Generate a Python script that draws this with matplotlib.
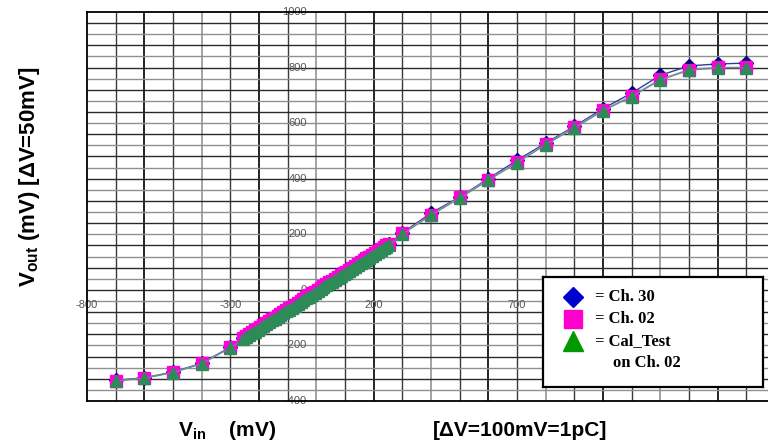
import numpy as np
import matplotlib
matplotlib.use("Agg")
import matplotlib.pyplot as plt

plt.rcParams['mathtext.fontset'] = 'custom'
plt.rcParams['mathtext.rm'] = 'Liberation Sans'
plt.rcParams['mathtext.bf'] = 'Liberation Sans:bold'

# ---------------- data ----------------
vin = [-700, -600, -500, -400, -300,
       -255, -245, -235, -225, -215, -205, -195, -185, -175, -165, -155, -145,
       -135, -125, -115, -105, -95, -85, -75, -65, -55, -45, -35, -25, -15, -5,
       5, 15, 25, 35, 45, 55, 65, 75, 85, 95, 105, 115, 125, 135, 145, 155,
       165, 175, 185, 195, 205, 215, 225, 235, 245, 255,
       300, 400, 500, 600, 700, 800, 900, 1000, 1100, 1200, 1300, 1400, 1500]

cal_test = [-328, -318, -298, -266, -209,
            -177, -170, -164, -157, -150, -144, -137, -130, -124, -117, -110, -104,
            -97, -91, -84, -77, -71, -64, -57, -51, -44, -37, -31, -24, -17, -11,
            -4, 3, 9, 16, 23, 29, 36, 42, 49, 56, 62, 69, 76, 82, 89, 96,
            102, 109, 116, 122, 129, 136, 142, 149, 156, 162,
            200, 268, 330, 394, 457, 522, 582, 644, 695, 755, 790, 799, 799]

ch02 = [-327, -317, -297, -265, -207,
        -173, -166, -160, -153, -146, -140, -133, -126, -120, -113, -106, -100,
        -93, -87, -80, -73, -67, -60, -53, -47, -40, -33, -27, -20, -13, -7,
        0, 7, 13, 20, 27, 33, 40, 46, 53, 60, 66, 73, 80, 86, 93, 100,
        106, 113, 120, 126, 133, 140, 146, 153, 160, 166,
        203, 271, 333, 397, 460, 525, 585, 647, 698, 758, 793, 801, 801]

ch30 = [-326, -316, -296, -264, -206,
        -175, -168, -162, -155, -148, -142, -135, -128, -122, -115, -108, -102,
        -95, -89, -82, -75, -69, -62, -55, -49, -42, -35, -29, -22, -15, -9,
        -2, 5, 11, 18, 25, 31, 38, 44, 51, 58, 64, 71, 78, 84, 91, 98,
        104, 111, 118, 124, 131, 138, 144, 151, 158, 164,
        205, 276, 334, 400, 466, 528, 588, 652, 708, 772, 806, 813, 816]

xtick_vals = [-800, -300, 200, 700]
xtick_labels = ['-800', '-300', '200', '700']
ytick_vals = [1000, 800, 600, 400, 200, 0, -200, -400]
ytick_labels = ['1000', '800', '600', '400', '200', '0', '-200', '-400']

legend_labels = ['= Ch. 30', '= Ch. 02', '= Cal_Test']
legend_extra = 'on Ch. 02'

# ---------------- figure ----------------
fig = plt.figure(figsize=(7.68, 4.47), dpi=100)
ax = fig.add_axes([87 / 768, 1 - 401 / 447, 1 - 87 / 768, 389 / 447])
ax.set_xlim(-800, -800 + 681 / 0.2866)
ax.set_ylim(-400, 1000)
ax.set_xticks([])
ax.set_yticks([])

# grid
for gx in np.arange(-700, 1600, 100):
    m = int(gx) % 400
    if m == 200:
        c, lw = '#000000', 1.2
    elif m in (100, 300):
        c, lw = '#3a3a3a', 1.0
    else:
        c, lw = '#8a8a8a', 1.1
    ax.axvline(gx, color=c, lw=lw, zorder=0)
for gy in np.arange(-360, 1000, 40):
    if int(gy) % 80 == 0:
        c, lw = '#2a2a2a', 1.0
    else:
        c, lw = '#909090', 1.0
    ax.axhline(gy, color=c, lw=lw, zorder=0)

for s in ['left', 'top', 'bottom']:
    ax.spines[s].set_linewidth(1.3)
    ax.spines[s].set_color('black')
ax.spines['right'].set_visible(False)

# tick labels (placed at centre of chart)
for v, l in zip(xtick_vals, xtick_labels):
    ax.text(v, -54, l, ha='center', va='center', fontsize=8,
            color='#555555', family='Liberation Sans', zorder=1, clip_on=False)
for v, l in zip(ytick_vals, ytick_labels):
    ax.text(-33, v, l, ha='right', va='center', fontsize=8,
            color='#555555', family='Liberation Sans', zorder=1, clip_on=False)

# series
ax.plot(vin, ch30, color='#2c3e9a', lw=1.0, marker='D', ms=7,
        mfc='#000080', mec='#000080', zorder=3)
ax.plot(vin, ch02, color='#b58ab5', lw=0.9, marker='s', ms=8,
        mfc='#ff00dd', mec='#ff00dd', zorder=4)
ax.plot(vin, cal_test, color='#5f8f8f', lw=0.9, marker='^', ms=8.5,
        mfc='#2e8b57', mec='#2e8b57', zorder=5)

# axis labels
fig.text(30 / 768, 1 - 177 / 447, r'$\mathbf{V_{out}}$ (mV) [ΔV=50mV]',
         rotation=90, ha='center', va='center', fontsize=16,
         fontweight='bold', family='Liberation Sans')
fig.text(178 / 768, 1 - 430 / 447, r'$\mathbf{V_{in}}$    (mV)',
         ha='left', va='center', fontsize=15, fontweight='bold',
         family='Liberation Sans')
fig.text(433 / 768, 1 - 430 / 447, '[ΔV=100mV=1pC]',
         ha='left', va='center', fontsize=15, fontweight='bold',
         family='Liberation Sans')

# legend box
lax = fig.add_axes([543 / 768, 1 - 387 / 447, 220 / 768, 110 / 447])
lax.set_xlim(0, 1)
lax.set_ylim(0, 1)
lax.set_xticks([])
lax.set_yticks([])
for s in lax.spines.values():
    s.set_linewidth(1.6)
    s.set_color('black')
lax.set_facecolor('white')
rows = [0.82, 0.62, 0.42]
lax.plot([0.136], [rows[0]], marker='D', ms=10, color='#0000cc', ls='none')
lax.plot([0.136], [rows[1]], marker='s', ms=12.5, color='#ff00cc', ls='none')
lax.plot([0.136], [rows[2]], marker='^', ms=14, color='#009900', ls='none')
for r, l in zip(rows, legend_labels):
    lax.text(0.236, r, l, ha='left', va='center', fontsize=12,
             fontweight='bold', family='Liberation Serif')
lax.text(0.318, 0.22, legend_extra, ha='left', va='center', fontsize=12,
         fontweight='bold', family='Liberation Serif')

fig.savefig('out.png', dpi=100)
